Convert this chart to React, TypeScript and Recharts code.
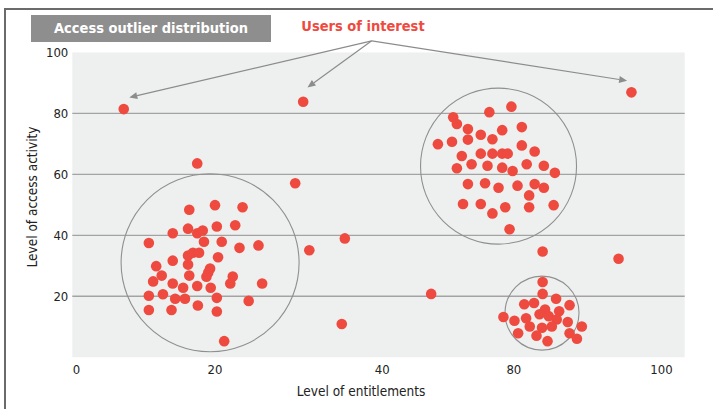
import React from 'react';
import {
  ScatterChart,
  Scatter,
  XAxis,
  YAxis,
  CartesianGrid,
  ReferenceDot,
  ReferenceLine,
} from 'recharts';

// x is the position along the (non-uniform) entitlement axis, 0..100 across the plot
const xTickPos = [0.7, 23.3, 50.6, 72.1, 96.2];
const xTickLabels = ['0', '20', '40', '80', '100'];
const yTicks = [20, 40, 60, 80, 100];
const gridValues = [20, 40, 60, 80];

const lowCluster = [
  { x: 20.4, y: 63.6 }, { x: 19.1, y: 48.4 }, { x: 23.3, y: 49.9 }, { x: 27.8, y: 49.2 },
  { x: 16.4, y: 40.7 }, { x: 18.9, y: 42.2 }, { x: 20.4, y: 40.7 }, { x: 21.3, y: 41.6 },
  { x: 23.6, y: 42.9 }, { x: 26.6, y: 43.3 }, { x: 12.5, y: 37.5 }, { x: 21.5, y: 37.9 },
  { x: 24.4, y: 37.9 }, { x: 27.3, y: 35.9 }, { x: 30.4, y: 36.7 }, { x: 18.9, y: 33.4 },
  { x: 19.7, y: 34.3 }, { x: 20.7, y: 34.3 }, { x: 16.4, y: 31.7 }, { x: 23.8, y: 32.8 },
  { x: 18.9, y: 30.4 }, { x: 13.7, y: 29.9 }, { x: 22.5, y: 29.1 }, { x: 22.2, y: 27.8 },
  { x: 21.9, y: 26.4 }, { x: 14.6, y: 26.8 }, { x: 19.1, y: 26.8 }, { x: 26.2, y: 26.5 },
  { x: 13.2, y: 24.9 }, { x: 25.8, y: 24.2 }, { x: 31.0, y: 24.2 }, { x: 16.4, y: 24.2 },
  { x: 18.1, y: 22.8 }, { x: 20.4, y: 23.4 }, { x: 22.6, y: 22.8 }, { x: 12.5, y: 20.2 },
  { x: 14.8, y: 20.7 }, { x: 16.8, y: 19.2 }, { x: 18.4, y: 19.2 }, { x: 23.6, y: 19.5 },
  { x: 28.8, y: 18.5 }, { x: 12.5, y: 15.5 }, { x: 16.2, y: 15.5 }, { x: 20.5, y: 17.0 },
  { x: 23.6, y: 15.0 }, { x: 24.8, y: 5.3 },
];

const highCluster = [
  { x: 71.7, y: 82.2 }, { x: 68.1, y: 80.4 }, { x: 62.2, y: 78.7 }, { x: 62.8, y: 76.5 },
  { x: 64.6, y: 74.9 }, { x: 70.2, y: 74.5 }, { x: 73.4, y: 75.5 }, { x: 66.7, y: 73.0 },
  { x: 59.7, y: 69.9 }, { x: 62.0, y: 70.7 }, { x: 64.6, y: 71.4 }, { x: 68.6, y: 71.5 },
  { x: 73.4, y: 69.5 }, { x: 75.5, y: 67.5 }, { x: 63.6, y: 66.0 }, { x: 66.7, y: 66.8 },
  { x: 68.6, y: 66.8 }, { x: 70.2, y: 66.8 }, { x: 71.1, y: 66.8 }, { x: 62.8, y: 62.0 },
  { x: 65.2, y: 63.3 }, { x: 67.8, y: 62.8 }, { x: 70.2, y: 62.2 }, { x: 71.9, y: 61.1 },
  { x: 74.2, y: 63.3 }, { x: 77.0, y: 62.8 }, { x: 78.8, y: 60.5 }, { x: 64.6, y: 56.8 },
  { x: 67.4, y: 57.1 }, { x: 69.6, y: 55.6 }, { x: 72.7, y: 56.3 }, { x: 75.5, y: 56.8 },
  { x: 77.0, y: 55.6 }, { x: 74.6, y: 53.1 }, { x: 63.8, y: 50.3 }, { x: 66.7, y: 50.3 },
  { x: 68.6, y: 47.2 }, { x: 70.7, y: 49.2 }, { x: 74.6, y: 49.2 }, { x: 78.6, y: 49.9 },
  { x: 71.4, y: 42.0 },
];

const tightCluster = [
  { x: 76.8, y: 24.7 }, { x: 76.8, y: 20.8 }, { x: 79.0, y: 19.2 }, { x: 73.8, y: 17.4 },
  { x: 75.4, y: 17.8 }, { x: 81.2, y: 17.1 }, { x: 77.2, y: 15.7 }, { x: 79.5, y: 15.1 },
  { x: 76.3, y: 14.1 }, { x: 77.8, y: 13.5 }, { x: 70.4, y: 13.2 }, { x: 72.2, y: 12.0 },
  { x: 74.1, y: 12.8 }, { x: 79.1, y: 12.4 }, { x: 80.9, y: 11.6 }, { x: 74.7, y: 10.1 },
  { x: 76.7, y: 9.7 }, { x: 78.3, y: 10.1 }, { x: 83.2, y: 10.1 }, { x: 72.8, y: 7.9 },
  { x: 75.8, y: 7.1 }, { x: 81.2, y: 7.9 }, { x: 82.4, y: 6.1 }, { x: 77.6, y: 5.3 },
];

const strays = [
  { x: 36.4, y: 57.1 }, { x: 38.7, y: 35.1 }, { x: 44.5, y: 39.0 }, { x: 44.0, y: 10.9 },
  { x: 58.6, y: 20.8 }, { x: 76.8, y: 34.7 }, { x: 89.2, y: 32.3 },
];

const usersOfInterest = [
  { x: 8.4, y: 81.4 }, { x: 37.7, y: 83.8 }, { x: 91.3, y: 86.9 },
];

// cluster rings: centre in data units, radius in px
const rings = [
  { x: 22.5, y: 31.0, r: 89 },
  { x: 69.6, y: 62.7, r: 78 },
  { x: 76.7, y: 14.5, r: 37 },
];

const calloutFrom = { x: 48.9, y: 103.8 };
const calloutTo = [
  { x: 9.3, y: 85.2 },
  { x: 38.4, y: 88.5 },
  { x: 90.6, y: 90.7 },
];

const RED = '#ee4a3f';
const FONT = '"DejaVu Sans Condensed", "DejaVu Sans", sans-serif';

const Dot = (props: any) => <circle cx={props.cx} cy={props.cy} r={5.3} fill={RED} />;

const Arrow = (props: any) => {
  const { x1, y1, x2, y2 } = props;
  const a = Math.atan2(y2 - y1, x2 - x1);
  const len = 8;
  const w = 3.5;
  const bx = x2 - len * Math.cos(a);
  const by = y2 - len * Math.sin(a);
  const px = -Math.sin(a) * w;
  const py = Math.cos(a) * w;
  return (
    <g>
      <line x1={x1} y1={y1} x2={bx} y2={by} stroke="#8c8c8c" strokeWidth={1.2} />
      <polygon points={`${x2},${y2} ${bx + px},${by + py} ${bx - px},${by - py}`} fill="#8c8c8c" />
    </g>
  );
};

export default function App() {
  return (
    <div style={{ position: 'absolute', left: 0, top: 0, width: 713, height: 409, overflow: 'hidden', background: '#fff', fontFamily: FONT }}>
      <div style={{ position: 'absolute', left: 4, top: 8, width: 760, height: 460, borderTop: '2px solid #6b6b6b', borderLeft: '2px solid #6b6b6b' }} />
      <div style={{ position: 'absolute', left: 31, top: 15, width: 240, height: 27, background: '#8e8e8e', color: '#fff', fontWeight: 'bold', fontSize: 14.5, lineHeight: '27px', textAlign: 'center' }}>
        Access outlier distribution
      </div>
      <div style={{ position: 'absolute', left: 363, top: 26, transform: 'translate(-50%, -50%)', color: RED, fontWeight: 'bold', fontSize: 14.5, whiteSpace: 'nowrap' }}>
        Users of interest
      </div>
      <div style={{ position: 'absolute', left: 32, top: 197, transform: 'translate(-50%, -50%) rotate(-90deg)', fontSize: 13.5, color: '#222', whiteSpace: 'nowrap' }}>
        Level of access activity
      </div>
      <div style={{ position: 'absolute', left: 361, top: 391, transform: 'translate(-50%, -50%)', fontSize: 13.5, color: '#222', whiteSpace: 'nowrap' }}>
        Level of entitlements
      </div>
      <div style={{ position: 'absolute', left: 0, top: 0 }}>
        <ScatterChart width={713} height={409} margin={{ top: 52.4, right: 28.3, left: 12.3, bottom: 9.7 }}>
          <CartesianGrid vertical={false} horizontalValues={gridValues} fill="#eef0ef" stroke="#a3a3a3" strokeWidth={1.4} />
          <XAxis
            type="number"
            dataKey="x"
            domain={[0, 100]}
            ticks={xTickPos}
            tickFormatter={(v: number) => xTickLabels[xTickPos.indexOf(v)]}
            axisLine={false}
            tickLine={false}
            tickSize={0}
            tickMargin={7}
            height={42}
            tick={{ fontSize: 13, fill: '#222', fontFamily: FONT }}
            interval={0}
          />
          <YAxis
            type="number"
            dataKey="y"
            domain={[0, 100]}
            ticks={yTicks}
            axisLine={false}
            tickLine={false}
            tickSize={0}
            tickMargin={4}
            width={60}
            tick={{ fontSize: 13, fill: '#222', fontFamily: FONT }}
            interval={0}
          />
          {rings.map((c, i) => (
            <ReferenceDot key={`ring-${i}`} x={c.x} y={c.y} r={c.r} fill="none" stroke="#8f8f8f" strokeWidth={1.1} ifOverflow="visible" />
          ))}
          {calloutTo.map((t, i) => (
            <ReferenceLine
              key={`arrow-${i}`}
              segment={[calloutFrom, t]}
              ifOverflow="visible"
              shape={Arrow}
            />
          ))}
          <Scatter data={lowCluster} shape={Dot} isAnimationActive={false} />
          <Scatter data={highCluster} shape={Dot} isAnimationActive={false} />
          <Scatter data={tightCluster} shape={Dot} isAnimationActive={false} />
          <Scatter data={strays} shape={Dot} isAnimationActive={false} />
          <Scatter data={usersOfInterest} shape={Dot} isAnimationActive={false} />
        </ScatterChart>
      </div>
    </div>
  );
}
